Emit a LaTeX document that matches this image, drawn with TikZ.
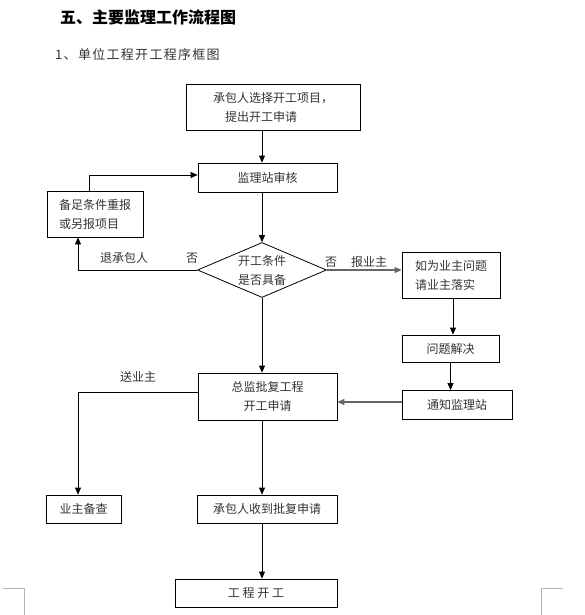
\documentclass[tikz,border=0pt]{standalone}
\usepackage{fontspec}
\setmainfont{Noto Sans CJK SC}
\usetikzlibrary{arrows.meta}
\usetikzlibrary{shapes.geometric}

\begin{document}
\begin{tikzpicture}[x=1pt,y=-1pt,
	box/.style={draw,line width=0.8pt,inner sep=0pt,align=left,font=\fontsize{12}{19}\selectfont,text=black!80},
	diam/.style={diamond,draw,line width=0.8pt,inner sep=0pt,aspect=2.35,align=center,font=\fontsize{12}{19}\selectfont,text=black!80},
	arrow/.style={-{Triangle[length=7pt,width=6pt]},line width=0.8pt},
	thickarrow/.style={-{Triangle[length=7pt,width=6pt]},line width=1.3pt,black!60},
	tag/.style={font=\fontsize{12}{14}\selectfont,text=black!80,inner sep=0pt},
	cornermark/.style={line width=0.6pt,black!30}]
	\useasboundingbox (0,0) rectangle (584,615);

	\node[anchor=west,inner sep=0pt,font=\fontsize{16}{20}\selectfont\bfseries] (title) at (60,17) {五、主要监理工作流程图};
	\node[anchor=west,inner sep=0pt,font=\fontsize{13}{16}\selectfont\addfontfeature{LetterSpace=10},text=black!80] (subtitle) at (55,55) {1、单位工程开工程序框图};

	\node[box,minimum width=174pt,minimum height=46pt] (apply) at (273,107) {承包人选择开工项目，\\\hspace*{1em}提出开工申请};
	\node[box,minimum width=139pt,minimum height=29pt] (review) at (267.5,177.5) {监理站审核};
	\node[box,minimum width=96pt,minimum height=46pt] (resubmit) at (95,214) {备足条件重报\\或另报项目};
	\node[diam,minimum width=129pt,minimum height=55pt] (check) at (262,270) {开工条件\\是否具备};
	\node[box,minimum width=98pt,minimum height=46pt] (issue) at (451,275) {如为业主问题\\请业主落实};
	\node[box,minimum width=97pt,minimum height=27pt] (solve) at (450.5,348.5) {问题解决};
	\node[box,minimum width=110pt,minimum height=29pt] (notify) at (457,405) {通知监理站};
	\node[box,align=center,minimum width=139pt,minimum height=47pt] (approve) at (267.5,396.5) {总监批复工程\\开工申请};
	\node[box,minimum width=75pt,minimum height=28pt] (owner) at (83.5,509) {业主备查};
	\node[box,minimum width=140pt,minimum height=28pt] (receive) at (267,509) {承包人收到批复申请};
	\node[box,minimum width=162pt,minimum height=28pt] (start) at (256,593) {工 程 开 工};

	\draw[arrow] (apply.south -| check.north) -- (review.north -| check.north);
	\draw[arrow] (review.south -| check.north) -- (check.north);
	\draw[arrow] ([xshift=-6pt]resubmit.north) |- ([yshift=2.5pt]review.west);
	\draw[arrow] (check.west) -| ([xshift=-17pt]resubmit.south);
	\draw[thickarrow] (check.east) -- (check.east -| issue.west);
	\draw[arrow] ([xshift=2pt]issue.south) -- ([xshift=2pt]issue.south |- solve.north);
	\draw[arrow] (solve.south) -- (solve.south |- notify.north);
	\draw[thickarrow] ([yshift=3pt]notify.west) -- ([yshift=3pt]notify.west -| approve.east);
	\draw[arrow] (check.south) -- (check.south |- approve.north);
	\draw[arrow] ([yshift=4pt]approve.west) -| ([xshift=-5.5pt]owner.north);
	\draw[arrow] (check.south |- approve.south) -- (check.south |- receive.north);
	\draw[arrow] (check.south |- receive.south) -- (check.south |- start.north);

	\node[tag] (backlabel) at (124,258) {退承包人};
	\node[tag] (noleft) at (192,258) {否};
	\node[tag] (noright) at (331,262) {否};
	\node[tag] (reportlabel) at (369,262) {报业主};
	\node[tag] (sendlabel) at (138,377) {送业主};

	\draw[cornermark] (3,588) -- (24,588) -- (24,615);
	\draw[cornermark] (563,588) -- (541,588) -- (541,615);
\end{tikzpicture}
\end{document}
